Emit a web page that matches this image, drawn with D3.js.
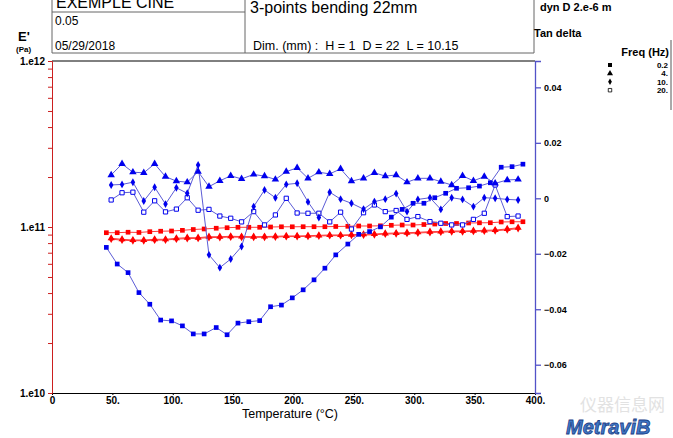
<!DOCTYPE html>
<html>
<head>
<meta charset="utf-8">
<script src="https://cdn.jsdelivr.net/npm/d3@7"></script>
<style>
  body { margin: 0; background: #fff; }
  svg { display: block; font-family: "Liberation Sans", Arial, sans-serif; }
</style>
</head>
<body>
<svg id="chart" width="673" height="438"></svg>
<script>
// temperatures (°C) - 0.2 Hz is measured first, other freqs a few degrees later
const temp02 = [45, 54, 63, 72, 81, 90, 99, 108, 117, 126, 136, 145, 154, 163, 172, 181, 190, 199, 208, 217,
    226, 235, 245, 254, 263, 272, 281, 290, 299, 308, 317, 326, 335, 345, 354, 363, 372, 381, 390];
const tempHi = [49, 58, 67, 76, 85, 94, 103, 112, 121, 130, 139, 148, 157, 167, 176, 185, 194, 203, 212, 221,
    230, 239, 248, 258, 267, 276, 285, 294, 303, 313, 322, 331, 340, 349, 358, 367, 377, 386];

// E' (Pa)
const eps02 = [9.24e10, 9.24e10, 9.30e10, 9.27e10, 9.37e10, 9.43e10, 9.46e10, 9.55e10, 9.66e10, 9.73e10,
    9.83e10, 9.90e10, 9.96e10, 9.96e10, 9.96e10, 1.000e11, 1.003e11, 1.003e11, 1.004e11, 1.004e11,
    1.004e11, 1.007e11, 1.010e11, 1.014e11, 1.014e11, 1.017e11, 1.024e11, 1.028e11, 1.028e11, 1.035e11,
    1.042e11, 1.050e11, 1.050e11, 1.057e11, 1.060e11, 1.061e11, 1.072e11, 1.075e11, 1.076e11];
const eps4 = [8.55e10, 8.43e10, 8.35e10, 8.35e10, 8.43e10, 8.43e10, 8.55e10, 8.62e10, 8.62e10, 8.74e10,
    8.74e10, 8.79e10, 8.76e10, 8.74e10, 8.76e10, 8.79e10, 8.83e10, 8.83e10, 8.86e10, 8.91e10,
    8.95e10, 8.95e10, 8.99e10, 9.04e10, 9.07e10, 9.16e10, 9.20e10, 9.24e10, 9.29e10, 9.37e10,
    9.40e10, 9.46e10, 9.46e10, 9.50e10, 9.55e10, 9.59e10, 9.73e10, 9.90e10];
const eps10 = [8.45e10, 8.33e10, 8.27e10, 8.27e10, 8.33e10, 8.35e10, 8.45e10, 8.52e10, 8.54e10, 8.64e10,
    8.65e10, 8.70e10, 8.68e10, 8.66e10, 8.68e10, 8.71e10, 8.75e10, 8.76e10, 8.78e10, 8.83e10,
    8.87e10, 8.87e10, 8.91e10, 8.95e10, 8.98e10, 9.07e10, 9.11e10, 9.15e10, 9.20e10, 9.27e10,
    9.31e10, 9.36e10, 9.37e10, 9.41e10, 9.45e10, 9.49e10, 9.62e10, 9.78e10];

// tan delta
const tan02 = [-0.0177, -0.0237, -0.0268, -0.0340, -0.0382, -0.0439, -0.0442, -0.0460, -0.0489, -0.0489,
    -0.0466, -0.0492, -0.0450, -0.0445, -0.0441, -0.0391, -0.0385, -0.0359, -0.0330, -0.0294,
    -0.0252, -0.0204, -0.0165, -0.0130, -0.0120, -0.0103, -0.0068, -0.0040, -0.0018, -0.0018,
    0.0002, 0.0018, 0.0036, 0.0038, 0.0044, 0.0056, 0.0112, 0.0114, 0.0123];
const tan4 = [0.0084, 0.0124, 0.0094, 0.0092, 0.0124, 0.0078, 0.0062, 0.0058, 0.0096, 0.0042,
    0.0063, 0.0081, 0.0070, 0.0086, 0.0080, 0.0068, 0.0096, 0.0110, 0.0072, 0.0094,
    0.0088, 0.0106, 0.0062, 0.0072, 0.0092, 0.0080, 0.0084, 0.0058, 0.0072, 0.0072,
    0.0060, 0.0048, 0.0081, 0.0063, 0.0078, 0.0054, 0.0066, 0.0068];
const tan10 = [0.0048, 0.0050, 0.0058, -0.0010, 0.0040, -0.0021, 0.0038, 0.0018, 0.0120, -0.0204,
    -0.0250, -0.0219, -0.0174, -0.0030, 0.0030, 0.0002, 0.0050, 0.0054, -0.0013, -0.0069,
    0.0022, -0.0003, -0.0018, -0.0039, -0.0012, -0.0003, 0.0017, -0.0048, -0.0004, 0.0002,
    -0.0040, 0.0002, -0.0004, -0.0030, 0.0002, 0.0000, -0.0004, -0.0006];
const tan20 = [-0.0006, 0.0020, 0.0022, -0.0050, -0.0009, -0.0049, -0.0039, 0.0002, -0.0043, -0.0040,
    -0.0064, -0.0072, -0.0085, -0.0048, -0.0096, -0.0060, 0.0000, -0.0053, -0.0054, -0.0054,
    -0.0085, -0.0050, -0.0111, -0.0052, -0.0024, -0.0048, -0.0044, -0.0076, -0.0066, -0.0084,
    -0.0090, -0.0096, -0.0096, -0.0076, -0.0054, 0.0048, -0.0066, -0.0064];

const xTicks = [0, 50, 100, 150, 200, 250, 300, 350, 400];
const tanTicks = [0.04, 0.02, 0, -0.02, -0.04, -0.06];
const freqLabels = ["0.2", "4.", "10.", "20."];

const svg = d3.select("#chart");
const pLeft = 52, pRight = 535, pTop = 61, pBottom = 393;

const x = d3.scaleLinear().domain([0, 400]).range([pLeft, pRight]);
const yE = d3.scaleLog().domain([1e10, 1e12]).range([pBottom, pTop]);
const yT = d3.scaleLinear().domain([-0.0702, 0.0495]).range([pBottom, pTop]);

const blue = "#0000ee", blueLine = "#5c5cd6", red = "#ff0000", redLine = "#ff3a3a";

// header boxes
const hdr = svg.append("g").attr("stroke", "#666").attr("fill", "none");
hdr.append("line").attr("x1", 52).attr("x2", 52).attr("y1", 0).attr("y2", 53);
hdr.append("line").attr("x1", 245).attr("x2", 245).attr("y1", 0).attr("y2", 53);
hdr.append("line").attr("x1", 534).attr("x2", 534).attr("y1", 0).attr("y2", 53);
hdr.append("line").attr("x1", 52).attr("x2", 534).attr("y1", 53).attr("y2", 53);
hdr.append("line").attr("x1", 52).attr("x2", 245).attr("y1", 12).attr("y2", 12);

svg.append("text").attr("x", 56).attr("y", 8).attr("font-size", 16).text("EXEMPLE CINE");
svg.append("text").attr("x", 55).attr("y", 25).attr("font-size", 12).text("0.05");
svg.append("text").attr("x", 55).attr("y", 50).attr("font-size", 12).text("05/29/2018");
svg.append("text").attr("x", 250).attr("y", 13).attr("font-size", 16).text("3-points bending 22mm");
svg.append("text").attr("x", 253).attr("y", 50).attr("font-size", 12.5).attr("xml:space", "preserve")
    .text("Dim. (mm) :  H = 1  D = 22  L = 10.15");
svg.append("text").attr("x", 540).attr("y", 11).attr("font-size", 11).attr("font-weight", "bold").text("dyn D 2.e-6 m");
svg.append("text").attr("x", 534).attr("y", 37).attr("font-size", 11).attr("font-weight", "bold").text("Tan delta");
svg.append("text").attr("x", 18).attr("y", 41).attr("font-size", 13).attr("font-weight", "bold").text("E'");
svg.append("text").attr("x", 16).attr("y", 52).attr("font-size", 8).attr("font-weight", "bold").text("(Pa)");

// legend
svg.append("text").attr("x", 669).attr("y", 56).attr("text-anchor", "end")
    .attr("font-size", 11).attr("font-weight", "bold").text("Freq (Hz)");
const legSyms = [
    { t: d3.symbolSquare, s: 16, fill: "#000", stroke: "none" },
    { t: d3.symbolTriangle, s: 16, fill: "#000", stroke: "none" },
    { t: d3.symbolDiamond, s: 12, fill: "#000", stroke: "none" },
    { t: d3.symbolSquare, s: 12, fill: "#fff", stroke: "#000" }
];
freqLabels.forEach((lab, i) => {
    const yy = 65 + i * 8.4;
    svg.append("path").attr("d", d3.symbol().type(legSyms[i].t).size(legSyms[i].s)())
        .attr("transform", `translate(610,${yy})`)
        .attr("fill", legSyms[i].fill).attr("stroke", legSyms[i].stroke).attr("stroke-width", 0.8);
    svg.append("text").attr("x", 668).attr("y", yy + 3).attr("text-anchor", "end")
        .attr("font-size", 8).attr("font-weight", "bold").text(lab);
});
svg.append("line").attr("x1", 671).attr("x2", 671).attr("y1", 40).attr("y2", 110)
    .attr("stroke", "#aaa").attr("stroke-width", 2);

// plot frame top
svg.append("line").attr("x1", pLeft).attr("x2", pRight).attr("y1", pTop).attr("y2", pTop).attr("stroke", "#000");

// bottom axis
const xAxis = svg.append("g").attr("transform", `translate(0,${pBottom})`)
    .call(d3.axisBottom(x).tickValues(xTicks).tickSize(2).tickPadding(2)
        .tickFormat(d => d === 0 ? "0" : d + "."));
xAxis.select(".domain").attr("stroke", "#000");
xAxis.selectAll("text").attr("font-size", 10).attr("font-weight", "bold")
    .attr("font-family", "Liberation Sans, Arial, sans-serif").attr("fill", "#000");
svg.append("text").attr("x", 290).attr("y", 418).attr("text-anchor", "middle")
    .attr("font-size", 12.5).text("Temperature (°C)");

// left log axis
const eTicks = [];
[1e10, 1e11].forEach(dec => { for (let k = 1; k < 10; k++) eTicks.push(dec * k); });
eTicks.push(1e12);
const yAxisL = svg.append("g").attr("transform", `translate(${pLeft},0)`)
    .call(d3.axisLeft(yE).tickValues(eTicks).tickSize(4).tickPadding(3)
        .tickFormat(d => [1e10, 1e11, 1e12].includes(d) ? "1.e" + Math.round(Math.log10(d)) : ""));
yAxisL.selectAll("path, line").attr("stroke", "#cc1f1f");
yAxisL.selectAll("text").attr("font-size", 10).attr("font-weight", "bold")
    .attr("font-family", "Liberation Sans, Arial, sans-serif").attr("fill", "#000");

// right axis
const yAxisR = svg.append("g").attr("transform", `translate(${pRight},0)`)
    .call(d3.axisRight(yT).tickValues(tanTicks).tickSize(6).tickPadding(3)
        .tickFormat(d => d === 0 ? "0" : d3.format(".2f")(d)));
yAxisR.selectAll("path, line").attr("stroke", "#5252c8").attr("stroke-width", 1.3);
yAxisR.selectAll("text").attr("font-size", 9).attr("font-weight", "bold")
    .attr("font-family", "Liberation Sans, Arial, sans-serif").attr("fill", "#000");

// series
function drawSeries(xs, ys, yScale, lineColor, sym, size, fill, stroke) {
    const pts = xs.map((t, i) => [t, ys[i]]);
    svg.append("path").datum(pts)
        .attr("fill", "none").attr("stroke", lineColor).attr("stroke-width", 1)
        .attr("d", d3.line().x(d => x(d[0])).y(d => yScale(d[1])));
    svg.append("g").selectAll("path").data(pts).enter().append("path")
        .attr("d", d3.symbol().type(sym).size(size)())
        .attr("transform", d => `translate(${x(d[0])},${yScale(d[1])})`)
        .attr("fill", fill).attr("stroke", stroke).attr("stroke-width", 1);
}

drawSeries(tempHi, eps10, yE, redLine, d3.symbolDiamond, 18, red, "none");
drawSeries(tempHi, eps4, yE, redLine, d3.symbolTriangle, 22, red, "none");
drawSeries(temp02, eps02, yE, redLine, d3.symbolSquare, 22, red, "none");

drawSeries(tempHi, tan20, yT, blueLine, d3.symbolSquare, 18, "#fff", blue);
drawSeries(tempHi, tan10, yT, blueLine, d3.symbolDiamond, 18, blue, "none");
drawSeries(tempHi, tan4, yT, blueLine, d3.symbolTriangle, 24, blue, "none");
drawSeries(temp02, tan02, yT, blueLine, d3.symbolSquare, 22, blue, "none");

// watermark
svg.append("text").attr("x", 580).attr("y", 411).attr("font-size", 17)
    .attr("font-family", "Noto Sans CJK SC").attr("fill", "#e2e2e2").text("仪器信息网");
svg.append("text").attr("x", 566).attr("y", 434).attr("font-size", 20).attr("font-weight", "bold")
    .attr("font-style", "italic").attr("fill", "#3f78c8").attr("stroke", "#1d3f86").attr("stroke-width", 0.8)
    .text("MetraviB");
</script>
</body>
</html>
